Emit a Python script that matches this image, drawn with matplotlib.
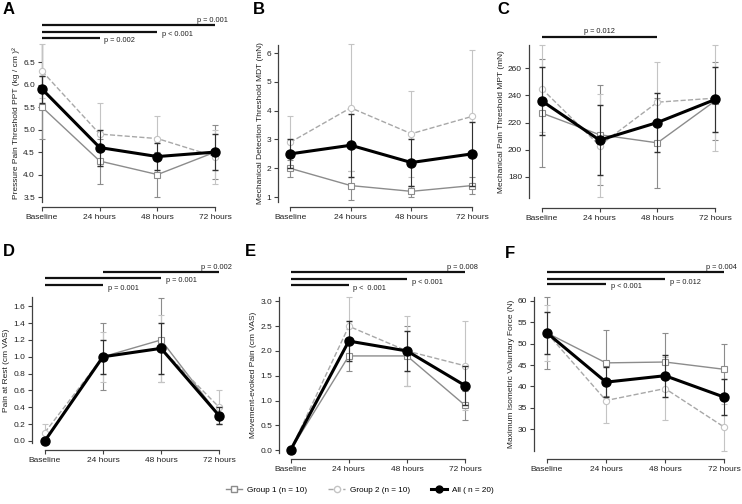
import matplotlib
matplotlib.use("Agg")
import matplotlib.pyplot as plt
from matplotlib.lines import Line2D

plt.rcParams['font.family'] = ['Liberation Sans', 'DejaVu Sans']

times = ["Baseline", "24 hours", "48 hours", "72 hours"]
x = [0, 1, 2, 3]

# A - pressure pain threshold
ppt_g1 = [5.5, 4.3, 4.0, 4.5]
ppt_g1_sd = [0.7, 0.5, 0.5, 0.6]
ppt_g2 = [6.3, 4.9, 4.8, 4.4]
ppt_g2_sd = [0.6, 0.7, 0.5, 0.6]
ppt_all = [5.9, 4.6, 4.4, 4.5]
ppt_all_sd = [0.3, 0.4, 0.3, 0.4]

# B - mechanical detection threshold
mdt_g1 = [2.0, 1.4, 1.2, 1.4]
mdt_g1_sd = [0.3, 0.5, 0.2, 0.3]
mdt_g2 = [2.9, 4.1, 3.2, 3.8]
mdt_g2_sd = [0.9, 2.2, 1.5, 2.3]
mdt_all = [2.5, 2.8, 2.2, 2.5]
mdt_all_sd = [0.5, 1.1, 0.8, 1.1]

# C - mechanical pain threshold
mpt_g1 = [227, 211, 205, 236]
mpt_g1_sd = [40, 37, 33, 29]
mpt_g2 = [245, 203, 235, 238]
mpt_g2_sd = [32, 38, 30, 39]
mpt_all = [236, 207, 220, 237]
mpt_all_sd = [25, 26, 22, 24]

# D - pain at rest
rest_g1 = [0.0, 1.0, 1.2, 0.3]
rest_g1_sd = [0.0, 0.4, 0.5, 0.1]
rest_g2 = [0.1, 1.0, 1.1, 0.4]
rest_g2_sd = [0.1, 0.3, 0.4, 0.2]
rest_all = [0.0, 1.0, 1.1, 0.3]
rest_all_sd = [0.0, 0.2, 0.3, 0.1]

# E - movement-evoked pain
move_g1 = [0.0, 1.9, 1.9, 0.9]
move_g1_sd = [0.0, 0.3, 0.6, 0.3]
move_g2 = [0.0, 2.5, 2.0, 1.7]
move_g2_sd = [0.0, 0.6, 0.7, 0.9]
move_all = [0.0, 2.2, 2.0, 1.3]
move_all_sd = [0.0, 0.4, 0.4, 0.4]

# F - maximum isometric voluntary force
mvf_g1 = [52.5, 45.5, 45.7, 44.0]
mvf_g1_sd = [8.5, 7.8, 6.8, 6.0]
mvf_g2 = [52.5, 36.7, 39.5, 30.5]
mvf_g2_sd = [6.5, 5.2, 7.3, 5.5]
mvf_all = [52.5, 41.0, 42.5, 37.5]
mvf_all_sd = [5.0, 3.5, 4.9, 4.3]

W, H = 742, 504
fig = plt.figure(figsize=(W / 100, H / 100), dpi=100)

# panel layout in pixels: left, top, right, bottom, xlim, ylim, x-spine offset
panels = [
    dict(letter="A", box=(42, 45, 221, 202), xlim=(0, 3.1), ylim=(3.39, 6.88), off=5,
         yticks=[3.5, 4.0, 4.5, 5.0, 5.5, 6.0, 6.5], fmt="%.1f",
         ylabel="Pressure Pain Threshold PPT (kg / cm )²",
         g1=(ppt_g1, ppt_g1_sd), g2=(ppt_g2, ppt_g2_sd), al=(ppt_all, ppt_all_sd),
         comps=[(0, 1, "p = 0.002"), (0, 2, "p < 0.001"), (0, 3, "p = 0.001")],
         gaps=[7, 13, 20], lpos=(3, 10)),
    dict(letter="B", box=(278, 45, 478, 202), xlim=(-0.2, 3.1), ylim=(0.83, 6.28), off=5,
         yticks=[1, 2, 3, 4, 5, 6], fmt="%d",
         ylabel="Mechanical Detection Threshold MDT (mN)",
         g1=(mdt_g1, mdt_g1_sd), g2=(mdt_g2, mdt_g2_sd), al=(mdt_all, mdt_all_sd),
         comps=[], gaps=[], lpos=(253, 10)),
    dict(letter="C", box=(529, 45, 721, 198), xlim=(-0.22, 3.1), ylim=(164.3, 277.2), off=10,
         yticks=[180, 200, 220, 240, 260], fmt="%d",
         ylabel="Mechanical Pain Threshold MPT (mN)",
         g1=(mpt_g1, mpt_g1_sd), g2=(mpt_g2, mpt_g2_sd), al=(mpt_all, mpt_all_sd),
         comps=[(0, 2, "p = 0.012")], gaps=[8], lpos=(497, 10)),
    dict(letter="D", box=(32, 297, 225, 443), xlim=(-0.22, 3.1), ylim=(-0.024, 1.71), off=7,
         yticks=[0.0, 0.2, 0.4, 0.6, 0.8, 1.0, 1.2, 1.4, 1.6], fmt="%.1f",
         ylabel="Pain at Rest (cm VAS)",
         g1=(rest_g1, rest_g1_sd), g2=(rest_g2, rest_g2_sd), al=(rest_all, rest_all_sd),
         comps=[(0, 1, "p = 0.001"), (0, 2, "p = 0.001"), (1, 3, "p = 0.002")],
         gaps=[12, 19, 25], lpos=(3, 252)),
    dict(letter="E", box=(279, 297, 471, 453), xlim=(-0.2, 3.1), ylim=(-0.06, 3.09), off=6,
         yticks=[0.0, 0.5, 1.0, 1.5, 2.0, 2.5, 3.0], fmt="%.1f",
         ylabel="Movement-evoked Pain (cm VAS)",
         g1=(move_g1, move_g1_sd), g2=(move_g2, move_g2_sd), al=(move_all, move_all_sd),
         comps=[(0, 1, "p <  0.001"), (0, 2, "p < 0.001"), (0, 3, "p = 0.008")],
         gaps=[12, 18, 25], lpos=(245, 252)),
    dict(letter="F", box=(534, 297, 730, 451), xlim=(-0.22, 3.1), ylim=(24.9, 60.9), off=8,
         yticks=[30, 35, 40, 45, 50, 55, 60], fmt="%d",
         ylabel="Maximum Isometric Voluntary Force (N)",
         g1=(mvf_g1, mvf_g1_sd), g2=(mvf_g2, mvf_g2_sd), al=(mvf_all, mvf_all_sd),
         comps=[(0, 1, "p < 0.001"), (0, 2, "p = 0.012"), (0, 3, "p = 0.004")],
         gaps=[13, 18, 25], lpos=(505, 254)),
]

c1 = "#8c8c8c"
c2 = "#a8a8a8"
c2e = "#c4c4c4"
spine_c = "#404040"

for p in panels:
    l, t, r, b = p["box"]
    ax = fig.add_axes([l / W, 1 - b / H, (r - l) / W, (b - t) / H])
    ax.set_xlim(*p["xlim"])
    ax.set_ylim(*p["ylim"])

    m, s = p["g1"]
    ax.errorbar(x, m, yerr=s, color=c1, ecolor=c1, lw=1.0, elinewidth=0.8, capsize=2.5,
                marker="s", ms=4, mfc="white", mec=c1, mew=0.8, clip_on=False, zorder=3)
    m, s = p["g2"]
    ax.errorbar(x, m, yerr=s, color=c2, ecolor=c2e, lw=1.0, ls="--", elinewidth=0.8,
                capsize=2.5, marker="o", ms=4.5, mfc="white", mec=c2e, mew=0.8,
                clip_on=False, zorder=3)
    m, s = p["al"]
    ax.errorbar(x, m, yerr=s, color="black", ecolor="#303030", lw=2.2, elinewidth=0.8,
                capsize=2.5, marker="o", ms=6.5, mfc="black", mec="black",
                clip_on=False, zorder=4)

    for side in ["top", "right"]:
        ax.spines[side].set_visible(False)
    ax.spines["bottom"].set_position(("outward", p["off"] * 0.72))
    ax.spines["bottom"].set_bounds(0, 3)
    for side in ["left", "bottom"]:
        ax.spines[side].set_color(spine_c)
        ax.spines[side].set_linewidth(0.9)
    ax.set_xticks(x)
    ax.set_xticklabels(times)
    ax.set_yticks(p["yticks"])
    ax.set_yticklabels([p["fmt"] % v for v in p["yticks"]])
    ax.tick_params(axis="both", colors=spine_c, labelcolor="#222222", labelsize=6.0,
                   length=3, width=0.8, pad=2)
    ax.set_ylabel(p["ylabel"], fontsize=6.0, labelpad=2, color="#222222")

    # significance bars above the axes
    hpx = b - t
    n = len(p["comps"])
    for k, (x0, x1, txt) in enumerate(p["comps"]):
        yf = 1 + p["gaps"][k] / hpx
        tr = ax.get_xaxis_transform()
        ax.plot([x0, x1], [yf, yf], color="#111111", lw=1.6, transform=tr,
                clip_on=False, solid_capstyle="butt")
        if p["letter"] == "C":
            ax.text((x0 + x1) / 2, yf + 2 / hpx, txt, transform=tr, ha="center",
                    va="bottom", fontsize=5.3, color="#222222")
        elif k == n - 1:
            ax.text(x1 - 0.05, yf + 1 / hpx, txt, transform=tr, ha="center",
                    va="bottom", fontsize=5.3, color="#222222")
        else:
            ax.text(x1 + 0.08, yf - 3 / hpx, txt, transform=tr, ha="left",
                    va="center", fontsize=5.3, color="#222222")

    fig.text(p["lpos"][0] / W, 1 - p["lpos"][1] / H, p["letter"], fontsize=12,
             fontweight="bold", ha="left", va="center")

handles = [
    Line2D([], [], color=c1, lw=1.0, marker="s", ms=4, mfc="white", mec=c1),
    Line2D([], [], color=c2, lw=1.0, ls="--", marker="o", ms=4.5, mfc="white", mec=c2e),
    Line2D([], [], color="black", lw=2.2, marker="o", ms=5, mfc="black", mec="black"),
]
fig.legend(handles, ["Group 1 (n = 10)", "Group 2 (n = 10)", "All ( n = 20)"],
           loc="center", bbox_to_anchor=(0.485, 1 - 490 / H), ncol=3, frameon=False,
           fontsize=5.9, handlelength=2.0, columnspacing=2.6, handletextpad=0.6)

fig.savefig("out.png", dpi=100, facecolor="white")
